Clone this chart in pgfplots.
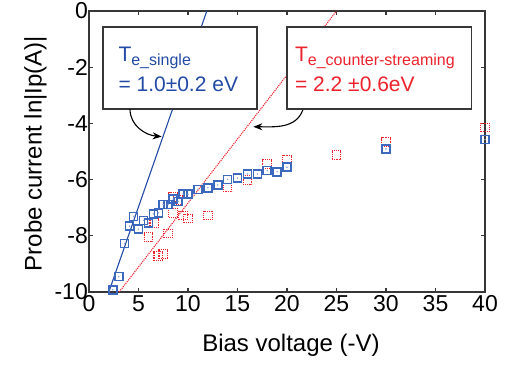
\documentclass[border=0pt]{standalone}
\usepackage{pgfplots}
\pgfplotsset{compat=1.18}
\usepackage{pgfplotstable}
\usepackage{fontspec}
\setmainfont{Liberation Sans}
\usetikzlibrary{arrows.meta,calc}

\definecolor{fitblue}{RGB}{35,75,165}
\definecolor{markblue}{RGB}{60,105,190}
\definecolor{fitred}{RGB}{235,35,45}
\definecolor{axgray}{RGB}{55,55,55}

% single electron population
\pgfplotstableread{
V lnI
2.4 -9.92
3.0 -9.45
3.6 -8.27
4.1 -7.66
4.5 -7.31
5.0 -7.76
5.5 -7.45
6.0 -7.55
6.5 -7.22
7.0 -7.18
7.5 -6.89
8.0 -6.88
8.5 -6.69
9.0 -6.78
9.5 -6.52
10.0 -6.52
11.0 -6.35
12.0 -6.29
13.0 -6.19
14.0 -5.99
15.0 -5.95
16.0 -5.80
17.0 -5.80
18.0 -5.68
19.0 -5.72
20.0 -5.56
30.0 -4.91
40.0 -4.57
}\single

% counter-streaming case
\pgfplotstableread{
V lnI
6.0 -8.05
6.6 -7.55
7.0 -8.72
7.5 -8.65
8.0 -7.92
8.5 -7.18
8.5 -6.62
9.0 -6.72
9.5 -7.28
10.0 -7.38
12.0 -7.28
14.0 -6.28
16.0 -6.02
18.0 -5.45
20.0 -5.28
25.0 -5.12
30.0 -4.67
40.0 -4.15
}\counter

\begin{document}
\begin{tikzpicture}
\begin{axis}[
  scale only axis, width=396pt, height=281pt,
  xmin=0, xmax=40, ymin=-10, ymax=0,
  xtick={0,5,...,40}, ytick={-10,-8,...,0},
  tick align=inside, major tick length=4pt,
  axis line style={axgray, line width=1.2pt},
  every tick/.style={axgray, line width=1.2pt},
  tick label style={font=\fontsize{23}{26}\selectfont},
  yticklabel style={inner sep=1pt},
  /pgf/number format/assume math mode=true,
  clip=false,
]
\coordinate (sw) at (rel axis cs:0,0);
\coordinate (ne) at (rel axis cs:1,1);

\addplot[only marks, mark=square, mark size=4.3pt,
  mark options={fitred, line width=1.1pt, densely dotted}] table {\counter};
\addplot[only marks, mark=square, mark size=4pt,
  mark options={markblue, line width=1.6pt}] table {\single};
\addplot[only marks, mark=*, mark size=0.5pt, markblue!60] table {\single};

% exponential fits
\addplot[fitblue, line width=1.1pt] coordinates {(2.0,-10) (11.9,0)};
\addplot[fitred, line width=1.1pt, densely dotted] coordinates {(3.05,-10) (25.0,0)};

% annotation boxes
\draw[axgray, line width=1.2pt, fill=white] (axis cs:1.41,-0.57) rectangle (axis cs:16.97,-3.49);
\draw[axgray, line width=1.2pt, fill=white] (axis cs:20.0,-0.57) rectangle (axis cs:38.6,-3.49);
\node[anchor=base west, inner sep=0pt, text=fitblue, font=\fontsize{21}{24}\selectfont]
  at (axis cs:2.96,-1.78) {T\raisebox{-4.5pt}{\fontsize{16}{18}\selectfont e\_single}};
\node[anchor=base west, inner sep=0pt, text=fitblue, font=\fontsize{21}{24}\selectfont]
  at (axis cs:2.96,-2.87) {= 1.0±0.2 eV};
\node[anchor=base west, inner sep=0pt, text=fitred, font=\fontsize{21}{24}\selectfont]
  at (axis cs:20.8,-1.78) {T\raisebox{-4.5pt}{\fontsize{16}{18}\selectfont e\_counter-streaming}};
\node[anchor=base west, inner sep=0pt, text=fitred, font=\fontsize{21}{24}\selectfont]
  at (axis cs:20.8,-2.87) {= 2.2 ±0.6eV};

% pointers to the fitted lines
\draw[black, line width=1.1pt, -{Stealth[length=9pt,width=7pt]}]
  (axis cs:4.14,-3.49) to[out=-90, in=175] (axis cs:7.34,-4.47);
\draw[black, line width=1.1pt, -{Stealth[length=9pt,width=7pt]}]
  (axis cs:21.6,-3.52) to[out=-110, in=0] (axis cs:16.6,-4.12);
\end{axis}

\node[anchor=base, font=\fontsize{24}{28}\selectfont]
  at ($(sw)!0.51!(sw-|ne)+(0,-59.7pt)$) {Bias voltage (-V)};
\node[anchor=base, rotate=90, font=\fontsize{24}{28}\selectfont]
  at ($(sw)!0.493!(sw|-ne)+(-47.3pt,0)$) {Probe current ln|Ip(A)|};

\pgfresetboundingbox
\path[use as bounding box] ($(sw)+(-89pt,-73pt)$) rectangle ($(ne)+(25pt,11pt)$);
\end{tikzpicture}
\end{document}
